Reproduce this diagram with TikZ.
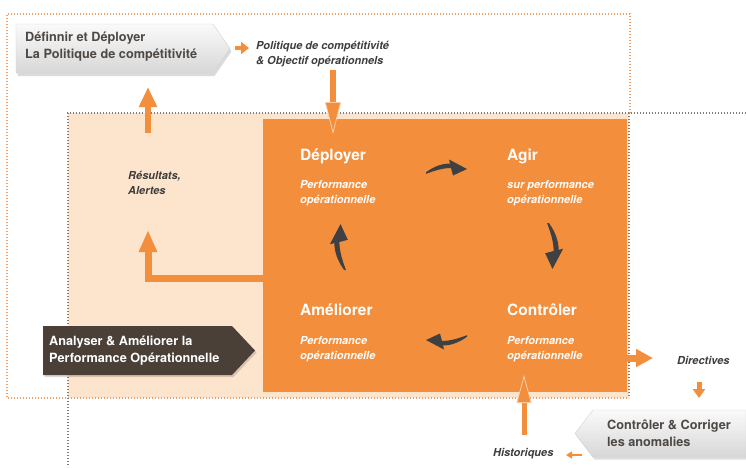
\documentclass[tikz,border=0pt]{standalone}
\usepackage{fontspec}
\setmainfont{TeX Gyre Heros}
\usetikzlibrary{arrows.meta}
\definecolor{orM}{RGB}{243,142,60}
\definecolor{peach}{RGB}{253,229,205}
\definecolor{dotOr}{RGB}{240,160,100}
\definecolor{dotGr}{RGB}{130,125,120}
\definecolor{txtB}{RGB}{77,72,68}
\definecolor{txtL}{RGB}{62,60,60}
\definecolor{dkbox}{RGB}{74,64,56}
\definecolor{dkarr}{RGB}{62,64,66}
\definecolor{gbT}{RGB}{250,250,250}
\definecolor{gbB}{RGB}{215,215,215}
\definecolor{tipline}{RGB}{252,214,180}
\newcommand\mycycarrow{%
  \fill[dkarr] (0,-0.8) .. controls (8,-6.5) and (16,-9.5) .. (24,-9.5) -- (23,-13.5) -- (41,-4) -- (27,2.5) -- (25,-5) .. controls (16,-5) and (8,-2) .. (0,0.8) -- cycle;}
\begin{document}
\begin{tikzpicture}[x=1pt,y=-1pt,
  lbl/.style={font=\fontsize{11}{15}\selectfont\bfseries\itshape, text=txtL, align=left, inner sep=0pt, anchor=west},
  sub/.style={lbl, text=white},
  head/.style={font=\fontsize{15.5}{18}\selectfont\bfseries, text=white, inner sep=0pt, anchor=base west},
  boxtxt/.style={font=\fontsize{12.7}{17}\selectfont\bfseries, align=left, inner sep=0pt, anchor=west},
  dots/.style={line width=1.2pt, dash pattern=on 1.2pt off 1.8pt},
  oarrow/.style={draw=orM, line width=#1}
]
\useasboundingbox (0,0) rectangle (746,467);
\fill[white] (0,0) rectangle (746,467);
% regions
\fill[peach] (68,113) rectangle (629,398);
\draw[dots,dotOr] (630,113) -- (630,14) -- (7,14) -- (7,398) -- (629,398);
\draw[dots,dotGr] (746,113) -- (68,113) -- (68,467);
\draw[dots,dotGr] (629,113) -- (629,398);
\node[fill=orM, inner sep=0pt, minimum width=364pt, minimum height=273pt, anchor=north west] (core) at (263,119) {};
% top-left box
\fill[black,opacity=0.14] (17.5,27) -- (214.5,27) -- (231.5,51.5) -- (214.5,76) -- (17.5,76) -- cycle;
\shadedraw[top color=gbT, bottom color=gbB, draw=gray!35, line width=0.4pt] (16,24) -- (213,24) -- (230,48.5) -- (213,73) -- (16,73) -- cycle;
\node[boxtxt, text=txtB] (def) at (25,46.5) {Définnir et Déployer\\La Politique de compétitivité};
\node[lbl] (pol) at (256,54) {Politique de compétitivité\\\& Objectif opérationnels};
\coordinate (sa1) at (235,48);
\coordinate (sa2) at (249,48);
\draw[oarrow=4pt, -{Triangle[length=8pt,width=12pt]}] (sa1) -- (sa2);
\coordinate (da1) at (333,70);
\coordinate (da2) at (333,134);
\draw[oarrow=5.5pt, -{Triangle[length=32pt,width=16pt,color=tipline,fill=orM,line width=0.7pt]}] (da1) -- (da2);
% left side
\node[lbl] (res) at (128,182.5) {Résultats,\\Alertes};
\coordinate (ua1) at (148,133);
\coordinate (ua2) at (148,87);
\draw[oarrow=6.5pt, -{Triangle[length=20pt,width=17pt]}] (ua1) -- (ua2);
\coordinate (el1) at (263,278);
\coordinate (el2) at (148,230);
\draw[oarrow=7pt, -{Triangle[length=22pt,width=17pt]}] (el1) -| (el2);
% dark box
\fill[black,opacity=0.15] (44.5,328) -- (233.5,328) -- (256.5,352.5) -- (233.5,377) -- (44.5,377) -- cycle;
\fill[dkbox] (43,326) -- (232,326) -- (255,350.5) -- (232,375) -- (43,375) -- cycle;
\node[boxtxt, text=white] (ana) at (49,350.5) {Analyser \& Améliorer la\\Performance Opérationnelle};
% core texts
\node[head] (dep) at (300,160.5) {Déployer};
\node[sub] (depS) at (300,193.5) {Performance\\opérationnelle};
\node[head] (agi) at (507,160.5) {Agir};
\node[sub] (agiS) at (507,193.5) {sur performance\\opérationnelle};
\node[head] (ame) at (300,315) {Améliorer};
\node[sub] (ameS) at (300,349) {Performance\\opérationnelle};
\node[head] (con) at (507,315) {Contrôler};
\node[sub] (conS) at (507,349) {Performance\\opérationnelle};
% cycle arrows
\begin{scope}[shift={(426,173)}]\mycycarrow\end{scope}
\begin{scope}[shift={(548,223)},rotate=-90,scale=1.12]\mycycarrow\end{scope}
\begin{scope}[shift={(467,336)},rotate=180]\mycycarrow\end{scope}
\begin{scope}[shift={(345,270)},rotate=90,scale=1.12]\mycycarrow\end{scope}
% right / bottom
\coordinate (ra1) at (627,358);
\coordinate (ra2) at (653,358);
\draw[oarrow=7pt, -{Triangle[length=17pt,width=17pt]}] (ra1) -- (ra2);
\node[lbl] (dir) at (677,360) {Directives};
\coordinate (dd1) at (699,382);
\coordinate (dd2) at (699,398);
\draw[oarrow=5pt, -{Triangle[length=9pt,width=12pt]}] (dd1) -- (dd2);
\fill[black,opacity=0.13] (576.5,436) -- (594.5,412.5) -- (746,412.5) -- (746,459.5) -- (594.5,459.5) -- cycle;
\shadedraw[top color=gbT, bottom color=gbB, draw=gray!35, line width=0.4pt] (575,433.5) -- (593,410) -- (746,410) -- (746,457) -- (593,457) -- cycle;
\node[boxtxt, text=txtB] (cc) at (607,433.5) {Contrôler \& Corriger\\les anomalies};
\coordinate (ha1) at (524,435);
\coordinate (ha2) at (524,375);
\draw[oarrow=5pt, -{Triangle[length=28pt,width=15pt,color=tipline,fill=orM,line width=0.7pt]}] (ha1) -- (ha2);
\node[lbl] (his) at (493,454) {Historiques};
\coordinate (hl1) at (582,455);
\coordinate (hl2) at (566,455);
\draw[oarrow=2.5pt, -{Triangle[length=6pt,width=7pt]}] (hl1) -- (hl2);
\end{tikzpicture}
\end{document}
